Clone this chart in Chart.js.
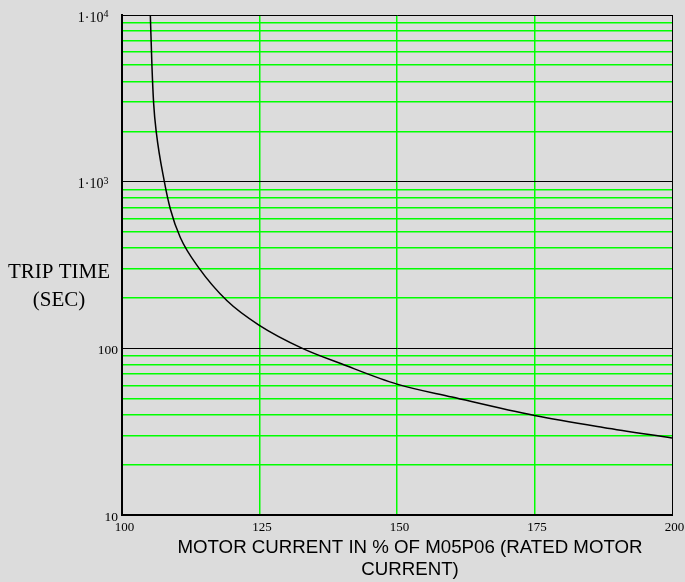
<!DOCTYPE html>
<html>
<head>
<meta charset="utf-8">
<script src="https://cdn.jsdelivr.net/npm/chart.js@4"></script>
<style>
  body { margin: 0; background: #dcdcdc; }
  canvas { display: block; }
</style>
</head>
<body>
<canvas id="trip" width="685" height="582"></canvas>
<script>
// motor current (% of rated) vs trip time (sec)
var currentPct = [105.15, 105.45, 105.75, 106.25, 107.7, 108.8, 110.6, 113.9, 119.1, 124.9, 132.8, 140, 150, 160, 175, 187.5, 200];
var tripTime = [10000, 4900, 2960, 1960, 1000, 683, 462, 306, 193, 138, 100, 80.5, 61, 51, 39.5, 33.5, 29];

var xTicks = [100, 125, 150, 175, 200];
var yTicks = [10, 20, 30, 40, 50, 60, 70, 80, 90,
              100, 200, 300, 400, 500, 600, 700, 800, 900,
              1000, 2000, 3000, 4000, 5000, 6000, 7000, 8000, 9000, 10000];
var yDecades = [10, 100, 1000, 10000];
var yDecadeLabels = ['10', '100', '1\u00b710^3', '1\u00b710^4'];

var yTitle = ['TRIP TIME', '(SEC)'];
var xTitle = ['MOTOR CURRENT IN % OF M05P06 (RATED MOTOR', 'CURRENT)'];

var points = [];
for (var i = 0; i < currentPct.length; i++) {
    points.push({x: currentPct[i], y: tripTime[i]});
}

var serif = '"Liberation Serif", "Times New Roman", serif';

var titles = {
    id: 'titles',
    afterDraw: function (chart) {
        var ctx = chart.ctx;
        ctx.save();
        ctx.fillStyle = '#000';
        ctx.textBaseline = 'alphabetic';

        // exponent labels (1·10^n) with a raised exponent
        var ys = chart.scales.y;
        yDecadeLabels.forEach(function (lab, k) {
            if (lab.indexOf('^') < 0) return;
            var parts = lab.split('^');
            var py = ys.getPixelForValue(yDecades[k]);
            ctx.font = '14px ' + serif;
            var bw = ctx.measureText(parts[0]).width;
            ctx.font = '10px ' + serif;
            var ew = ctx.measureText(parts[1]).width;
            var right = 108.5;
            ctx.textAlign = 'left';
            ctx.font = '14px ' + serif;
            ctx.fillText(parts[0], right - ew - bw, py + 6.5);
            ctx.font = '10px ' + serif;
            ctx.fillText(parts[1], right - ew, py + 2.3);
        });

        ctx.textAlign = 'center';
        ctx.font = '21px ' + serif;
        ctx.fillText(yTitle[0], 59, 278);
        ctx.fillText(yTitle[1], 59, 306);
        ctx.font = '18.7px "Liberation Sans", Arial, sans-serif';
        ctx.fillText(xTitle[0], 410, 553);
        ctx.fillText(xTitle[1], 410, 575);
        ctx.restore();
    }
};

new Chart(document.getElementById('trip').getContext('2d'), {
    type: 'line',
    data: {
        datasets: [{
            data: points,
            borderColor: '#000',
            borderWidth: 1.5,
            pointRadius: 0,
            fill: false,
            cubicInterpolationMode: 'monotone'
        }]
    },
    options: {
        responsive: false,
        animation: false,
        layout: {padding: {top: 15, right: 13, left: 0, bottom: 0}},
        plugins: {legend: {display: false}, tooltip: {enabled: false}},
        scales: {
            x: {
                type: 'linear',
                min: 100,
                max: 200,
                afterBuildTicks: function (scale) {
                    scale.ticks = xTicks.map(function (v) { return {value: v}; });
                },
                afterFit: function (scale) {
                    scale.height = 67;
                    scale.paddingLeft = 0;
                    scale.paddingRight = 0;
                },
                grid: {
                    drawTicks: false,
                    lineWidth: function (c) {
                        var v = c.tick ? c.tick.value : 0;
                        return (v === 100 || v === 200) ? 1 : 1.5;
                    },
                    color: function (c) {
                        var v = c.tick ? c.tick.value : 0;
                        return (v === 100 || v === 200) ? '#000' : '#00ff00';
                    }
                },
                border: {display: true, color: '#000', width: 2},
                ticks: {
                    autoSkip: false,
                    maxRotation: 0,
                    padding: 5,
                    labelOffset: 2.5,
                    color: '#000',
                    font: {family: serif, size: 13},
                    callback: function (v) { return String(v); }
                }
            },
            y: {
                type: 'logarithmic',
                min: 10,
                max: 10000,
                afterBuildTicks: function (scale) {
                    scale.ticks = yTicks.map(function (v) { return {value: v}; });
                },
                afterFit: function (scale) {
                    scale.width = 122;
                    scale.paddingTop = 0;
                    scale.paddingBottom = 0;
                },
                grid: {
                    drawTicks: false,
                    lineWidth: function (c) {
                        var v = c.tick ? c.tick.value : 0;
                        return yDecades.indexOf(v) >= 0 ? 1 : 1.5;
                    },
                    color: function (c) {
                        var v = c.tick ? c.tick.value : 0;
                        return yDecades.indexOf(v) >= 0 ? '#000' : '#00ff00';
                    }
                },
                border: {display: true, color: '#000', width: 2},
                ticks: {
                    autoSkip: false,
                    padding: 4,
                    labelOffset: 2,
                    color: '#000',
                    font: {family: serif, size: 13.5},
                    callback: function (v) {
                        var k = yDecades.indexOf(v);
                        if (k < 0 || yDecadeLabels[k].indexOf('^') >= 0) return '';
                        return yDecadeLabels[k];
                    }
                }
            }
        }
    },
    plugins: [titles]
});
</script>
</body>
</html>
